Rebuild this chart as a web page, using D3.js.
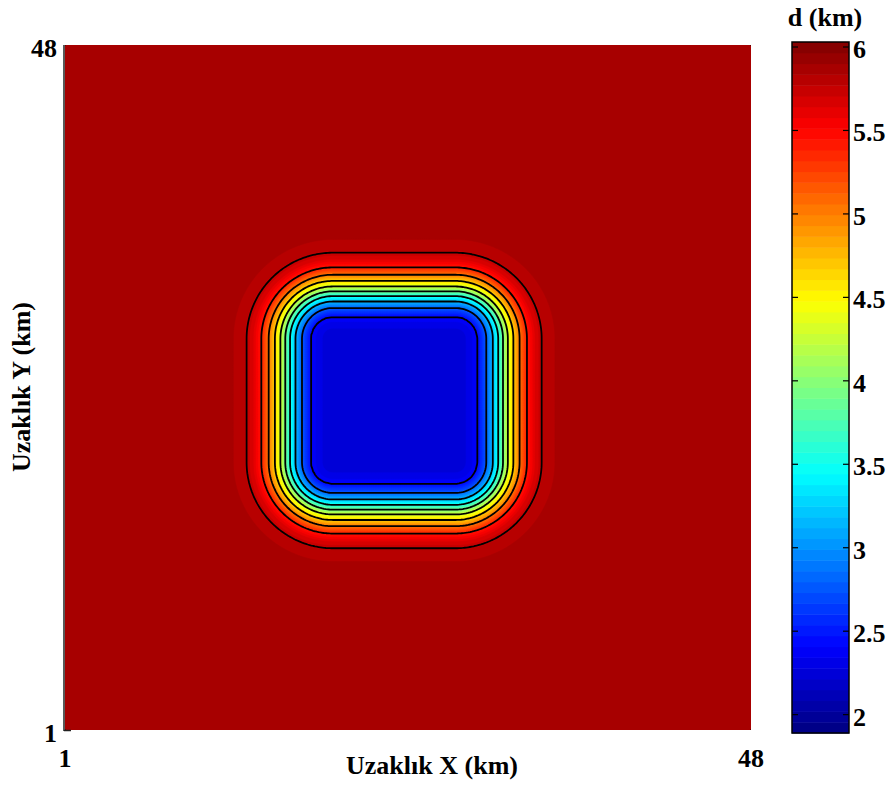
<!DOCTYPE html>
<html>
<head>
<meta charset="utf-8">
<script src="https://cdn.jsdelivr.net/npm/d3@7"></script>
<style>
  body { margin: 0; background: #fff; }
  svg { display: block; }
  text { font-family: "Liberation Serif", "Times New Roman", serif; font-weight: bold; fill: #000; }
</style>
</head>
<body>
<svg id="chart" width="894" height="785"></svg>
<script>
// Axis extent (km) and labels
const gridExtent = [1, 48];
const xTickValues = [1, 48];
const yTickValues = [1, 48];
const xTitle = "Uzaklık X (km)";
const yTitle = "Uzaklık Y (km)";
const colorbarTitle = "d (km)";

// Basin floor core (km): x range and y range
const floorX = [19.35, 27.75];
const floorY = [19.38, 27.84];
// Depth (km) against horizontal distance (km) outward from the floor core
const distanceKm = [0, 0.5, 1, 1.5, 2, 2.5, 3, 3.5, 4, 4.5, 5, 5.5, 6, 6.5, 7, 7.5, 8];
const depthKm = [2.25, 2.26, 2.30, 2.42, 2.70, 3.10, 3.60, 4.18, 4.67, 5.10, 5.45, 5.66, 5.77, 5.82, 5.845, 5.86, 5.86];

const contourLevels = [2.42, 2.79, 3.16, 3.53, 3.90, 4.27, 4.64, 5.01, 5.38, 5.75];
const colorDomain = [1.89, 6.03];
const colorbarTicks = [2, 2.5, 3, 3.5, 4, 4.5, 5, 5.5, 6];
const colorbarTickLabels = ["2", "2.5", "3", "3.5", "4", "4.5", "5", "5.5", "6"];
const nColors = 64;

// ---- layout ----
const svg = d3.select("#chart");
const plot = { left: 65, right: 751, top: 45, bottom: 730 };
const cbar = { left: 792, right: 849, top: 42, bottom: 733 };

const x = d3.scaleLinear().domain(gridExtent).range([plot.left, plot.right]);
const y = d3.scaleLinear().domain(gridExtent).range([plot.bottom, plot.top]);
const cy = d3.scaleLinear().domain(colorDomain).range([cbar.bottom, cbar.top]);
const depthAt = d3.scaleLinear().domain(distanceKm).range(depthKm).clamp(true);

// MATLAB-style jet colormap
function jet(t) {
  const c = v => Math.max(0, Math.min(1, v));
  return d3.rgb(
    Math.round(255 * c(Math.min(4 * t - 1.5, -4 * t + 4.5))),
    Math.round(255 * c(Math.min(4 * t - 0.5, -4 * t + 3.5))),
    Math.round(255 * c(Math.min(4 * t + 0.5, -4 * t + 2.5)))
  ).formatHex();
}
const step = (colorDomain[1] - colorDomain[0]) / nColors;
const bandLo = d3.range(nColors).map(i => colorDomain[0] + i * step);
const bandColor = d3.range(nColors).map(i => jet((i + 0.5) / nColors));

// ---- depth field sampled on a fine grid ----
const k = 8;
const N = (gridExtent[1] - gridExtent[0]) * k + 1;
const fine = new Float64Array(N * N);
for (let v = 0; v < N; v++) {
  const gy = gridExtent[0] + v / k;
  const ey = Math.max(0, floorY[0] - gy, gy - floorY[1]);
  for (let u = 0; u < N; u++) {
    const gx = gridExtent[0] + u / k;
    const ex = Math.max(0, floorX[0] - gx, gx - floorX[1]);
    fine[v * N + u] = depthAt(Math.hypot(ex, ey));
  }
}

const proj = d3.geoPath(d3.geoTransform({
  point(px, py) {
    this.stream.point(x(gridExtent[0] + (px - 0.5) / k), y(gridExtent[0] + (py - 0.5) / k));
  }
}));

svg.append("defs").append("clipPath").attr("id", "plotClip")
  .append("rect")
  .attr("x", plot.left).attr("y", plot.top)
  .attr("width", plot.right - plot.left).attr("height", plot.bottom - plot.top);

const field = svg.append("g").attr("clip-path", "url(#plotClip)");

// filled colour bands
const bands = d3.contours().size([N, N]).thresholds(bandLo)(fine);
field.selectAll("path.band").data(bands).join("path")
  .attr("class", "band")
  .attr("d", proj)
  .attr("fill", (d, i) => bandColor[i])
  .attr("stroke", (d, i) => bandColor[i])
  .attr("stroke-width", 0.6);

// contour lines
const lines = d3.contours().size([N, N]).thresholds(contourLevels)(fine);
field.selectAll("path.iso").data(lines).join("path")
  .attr("class", "iso")
  .attr("d", proj)
  .attr("fill", "none")
  .attr("stroke", "#000")
  .attr("stroke-width", 1.8)
  .attr("stroke-linejoin", "round");

// axis lines
svg.append("line")
  .attr("x1", plot.left - 1).attr("x2", plot.left - 1)
  .attr("y1", plot.top).attr("y2", plot.bottom + 1)
  .attr("stroke", "#222").attr("stroke-width", 1.5);
svg.append("line")
  .attr("x1", plot.left - 1).attr("x2", plot.left + 6)
  .attr("y1", plot.bottom + 0.5).attr("y2", plot.bottom + 0.5)
  .attr("stroke", "#222").attr("stroke-width", 1.5);

// tick labels
svg.selectAll("text.xt").data(xTickValues).join("text")
  .attr("class", "xt")
  .attr("x", d => x(d)).attr("y", 767)
  .attr("text-anchor", "middle")
  .attr("font-size", 26)
  .text(d => d);
svg.selectAll("text.yt").data(yTickValues).join("text")
  .attr("class", "yt")
  .attr("x", 57).attr("y", d => y(d) + 12)
  .attr("text-anchor", "end")
  .attr("font-size", 26)
  .text(d => d);

// axis titles
svg.append("text")
  .attr("x", 432).attr("y", 774)
  .attr("text-anchor", "middle")
  .attr("font-size", 26)
  .text(xTitle);
svg.append("text")
  .attr("transform", "translate(30,387) rotate(-90)")
  .attr("text-anchor", "middle")
  .attr("font-size", 26)
  .text(yTitle);

// ---- colour bar ----
const cb = svg.append("g");
cb.selectAll("rect").data(bandLo).join("rect")
  .attr("x", cbar.left)
  .attr("width", cbar.right - cbar.left)
  .attr("y", d => cy(d + step))
  .attr("height", d => cy(d) - cy(d + step) + 0.5)
  .attr("fill", (d, i) => bandColor[i]);
cb.append("rect")
  .attr("x", cbar.left).attr("y", cbar.top)
  .attr("width", cbar.right - cbar.left).attr("height", cbar.bottom - cbar.top)
  .attr("fill", "none").attr("stroke", "#000").attr("stroke-width", 1.5);
cb.selectAll("line.tl").data(colorbarTicks).join("line")
  .attr("class", "tl")
  .attr("x1", cbar.left).attr("x2", cbar.left + 6)
  .attr("y1", d => cy(d)).attr("y2", d => cy(d))
  .attr("stroke", "#000").attr("stroke-width", 1.2);
cb.selectAll("line.tr").data(colorbarTicks).join("line")
  .attr("class", "tr")
  .attr("x1", cbar.right - 6).attr("x2", cbar.right)
  .attr("y1", d => cy(d)).attr("y2", d => cy(d))
  .attr("stroke", "#000").attr("stroke-width", 1.2);
cb.selectAll("text.cl").data(colorbarTicks).join("text")
  .attr("class", "cl")
  .attr("x", cbar.right + 4)
  .attr("y", d => cy(d) + 11)
  .attr("font-size", 26)
  .text((d, i) => colorbarTickLabels[i]);
cb.append("text")
  .attr("x", 825).attr("y", 26)
  .attr("text-anchor", "middle")
  .attr("font-size", 26)
  .text(colorbarTitle);
</script>
</body>
</html>
